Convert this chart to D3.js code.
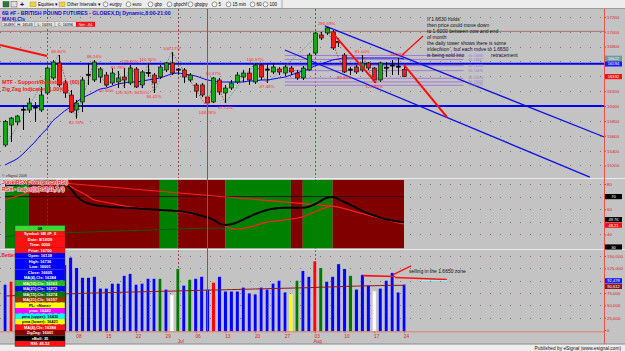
<!DOCTYPE html>
<html>
<head>
<meta charset="utf-8">
<style>
  body { margin: 0; background: #c3c3c3; overflow: hidden; }
  svg { display: block; font-family: "Liberation Sans", Arial, sans-serif; }
</style>
</head>
<body>
<div id="chart"></div>
<script src="https://d3js.org/d3.v7.min.js"></script>
<script>
// daily bars, index 0 = first session on screen (late May 2009)
var opens  = [15475,15744,15785,15950,15946,15980,15946,16175,16377,16579,
              16310,16148,15946,16054,16420,16350,16390,16417,16310,16323,
              16390,16310,16498,16283,16444,16417,16390,16485,16579,16490,
              16485,16350,16283,16283,16121,16054,16350,16175,16242,16323,
              16390,16444,16323,16552,16490,16458,16498,16444,16511,16444,
              16377,16485,16713,16956,16983,16996,16870,16686,16490,16525,
              16485,16579,16511,16350,16515,16545,16530,16489];
var highs  = [15812,15852,15880,16013,16108,16054,16256,16525,16619,16686,
              16350,16215,16081,16390,16579,16619,16525,16458,16511,16471,
              16511,16552,16525,16485,16579,16444,16552,16592,16727,16511,
              16511,16444,16310,16310,16175,16390,16377,16283,16350,16458,
              16485,16511,16579,16579,16579,16579,16525,16552,16538,16485,
              16538,16713,16996,16996,17060,17023,16915,16713,16525,16552,
              16686,16592,16525,16592,16592,16619,16646,16543];
var lows   = [15448,15515,15744,15677,15906,15785,15919,16148,16350,16256,
              16108,15906,15830,15919,16283,16323,16310,16256,16283,16242,
              16242,16283,16242,16242,16390,16175,16363,16458,16417,16417,
              16310,16323,16108,16121,15973,16040,16148,16040,16215,16296,
              16323,16283,16296,16350,16310,16431,16417,16404,16417,16350,
              16350,16471,16686,16888,16956,16754,16794,16444,16417,16431,
              16458,16485,16310,16323,16390,16417,16417,16391];
var closes = [15790,15838,15865,15960,16040,15973,16148,16511,16592,16283,
              16175,15919,16040,16350,16430,16592,16498,16283,16444,16377,
              16350,16511,16256,16458,16431,16310,16525,16579,16444,16480,
              16390,16417,16200,16148,16040,16377,16188,16242,16310,16417,
              16444,16350,16552,16390,16480,16525,16458,16525,16458,16377,
              16511,16686,16983,16915,17050,16781,16850,16458,16480,16458,
              16579,16511,16350,16579,16505,16540,16520,16396];
var maCls  = [15206,15246,15287,15354,15435,15515,15610,15690,15798,15865,
              15933,15987,16054,16108,16148,16188,16229,16242,16269,16296,
              16310,16323,16323,16337,16350,16363,16377,16404,16431,16444,
              16431,16417,16404,16377,16350,16337,16323,16323,16323,16323,
              16323,16337,16337,16350,16350,16363,16377,16390,16417,16444,
              16471,16498,16538,16565,16592,16619,16632,16646,16646,16646,
              16646,16646,16646,16646,16646,16646,16646,16632];

// zig zag swing points
var zzIdx   = [0,9,12,15,17,19,20,21,23,24,25,28,34,35,37,42,44,54,57,60,62,66];
var zzPrice = [15448,16686,15830,16619,16256,16471,16242,16552,16242,16579,16175,16727,
               15973,16390,16040,16579,16310,17060,16444,16686,16310,16646];
var zzLabel = ["","68.80%","62.76%","88.24%","60.50%","81.79%","120.30%","129.20%","84.41%",
               "110.30%","94.42%","100.17%","148.28%","62.47%","67.72%","100.57%","47.44%",
               "286.69%","80.96%","81.00%","120.86%","96.09%"];

// drawn levels and trend lines, [bar index, price]
var supportLevels = [16570, 16000];
var resistLevel = 17005;
var fibLevels = [16680, 16627, 16543, 16476, 16373, 16324, 16279];
var fibFrom = 47, fibTo = 77;
var redTopLeft = [[-0.84, 16821], [7.05, 16673]];
var redDrop    = [[54.8, 17000], [62.3, 16310]];
var redTarget  = [[67, 16552], [74.2, 15852]];
var redPointer = [[66.7, 16686], [70.2, 16942]];
var channelUpper = [[53.7, 17077], [104, 15475]];
var channelLower = [[47, 16754], [98.2, 15044]];
var noteLines = ["If 1.6630 holds", "then price could move down", "to 1.6000 between now and end",
                 "of month", "the daily tower shows there is some", "indecision , but each move to 1.6650",
                 "is being sold into"];
var noteTail = "retracement";

// RSX panel
var rsx = [79.0,79.3,79.6,79.9,80.2,80.6,81.0,81.3,81.6,81.7,
           80.5,76.5,70.5,66.5,64.5,63.3,62.6,62.1,61.7,61.4,
           61.2,61.0,60.7,60.4,60.1,59.7,59.4,59.1,58.9,58.6,
           58.0,57.1,56.0,54.8,53.6,51.5,48.8,47.5,48.0,49.5,
           51.8,54.0,56.2,57.9,59.3,60.3,61.0,61.2,61.2,61.1,
           61.2,62.0,63.8,66.5,69.0,69.7,68.0,65.7,63.5,61.0,
           58.7,56.6,55.0,53.3,52.0,51.0,50.3,49.8];
var rsxSig = [67.3,68.8,70.3,71.8,73.3,74.8,76.3,77.8,79.3,80.5,
              80.2,78.0,75.3,72.9,70.0,67.3,66.3,65.4,64.5,63.5,
              62.6,61.8,61.3,60.8,60.3,59.8,59.4,58.9,58.4,57.9,
              57.3,56.5,55.7,54.9,53.9,51.5,49.0,47.0,44.6,44.3,
              44.8,45.8,47.0,48.5,49.8,50.4,51.0,51.6,52.2,52.8,
              54.0,56.0,57.8,59.8,61.5,62.5,61.6,60.4,59.2,57.8,
              56.6,55.3,54.0,52.8,51.6,50.3,49.2,48.3];
var rsxTrend = [[9.7, 80.8], [55, 62.5]];
var rsxBase  = [[0, 38.0], [4, 40.3], [20, 42.8], [34, 45.0], [37, 44.7]];
var zoneStart = [0, 4, 26, 29, 37, 48, 50, 55];
var zoneEnd   = [4, 26, 29, 37, 48, 50, 55, 67];
var zoneUp    = [1, 0, 1, 0, 1, 0, 1, 0];

// volume panel
var vols = [92500,98400,95000,90000,97000,93000,101000,112000,108000,118000,
            131900,147600,126000,106300,106300,108300,84600,84600,94500,94500,
            110200,114200,92500,94500,104300,104300,104300,82700,70900,124000,
            90600,102400,104300,108300,82700,96500,108300,78700,78700,78700,
            86600,74800,72800,86600,82700,94500,100400,76800,72800,100400,
            120100,108300,139800,126000,98400,108300,133900,124000,110200,82700,
            112200,90600,78700,84600,100400,116100,76800,92500];
var volType = ["n","c","n","n","n","n","n","n","n","n",
               "n","n","n","n","n","n","n","n","n","n",
               "n","n","n","n","n","n","h","n","w","h",
               "n","h","n","n","n","c","n","n","n","n",
               "n","n","n","n","n","n","n","n","l","h",
               "n","n","c","h","n","n","n","n","h","n",
               "n","n","w","n","n","n","n","n"];
var volMa = [69000,69300,69900,70300,70500,71100,71400,71900,72300,72600,
             73100,73500,73800,74200,74700,75000,75200,75600,76000,76200,
             76600,76900,77100,77500,77700,78000,78400,78600,78800,79200,
             79500,79900,80100,80400,80800,81000,81200,81600,81900,82100,
             82500,82800,83200,83400,83700,84100,84300,84600,84900,85300,
             85500,85800,86300,86700,87000,87400,87800,88300,88600,89000,
             89300,89600,89800,90100,90300,90400,90500,90600];
var sellLine1 = [[60.1, 110200], [65.5, 108300]];
var sellLine2 = [[65.5, 106300], [74.2, 102400]];
var sellCyan  = [[69.7, 100400], [74.2, 100400]];
var sellPointer = [[65.2, 112200], [68.2, 129900]];

// axes (levels hidden behind value boxes are left out of the label lists)
var priceGrid  = [15200,15400,15600,15800,16000,16200,16400,16600,16800,17000,17200];
var priceTicks = [15200,15400,15600,15800,16000,16200,16800,17000,17200];
var rsiGrid  = [40, 50, 60, 70, 80];
var rsiTicks = [40, 60, 80];
var volGrid  = [25000,50000,75000,100000,125000,150000];
var volTicks = [0,25000,50000,75000,125000,150000];
var dayTickIdx = [12,17,22,27,32,37,42,47,52,57,62,67];
var dayTickLbl = ["08","15","22","29","06","13","20","27","03","10","17","24"];
var monthIdx = [7, 29, 52];
var monthLblIdx = [29, 52];
var monthLbl = ["Jul", "Aug"];
var cursorIdx = 34;

// data window
var tableText = ["08","Symbol: 6B #F_0","Date: 8/18/09","Time: 0000","Price: 16700","Open: 16138",
  "High: 16736","Low: 16001","Close: 16605","MA(4),Cls: 16384","MA(10),Cls: 16163","MA(21),Cls: 16272",
  "MA(15),Cls: 16274","MA(21),Cls: 16157","PL: <None>","pma: 16482","pma (upper): 16430",
  "pma (lower): 16421","MA(4),Cls: 16384","ZigZag: 16001","nBall: 35","RSI: 46.52"];
var tableFill = ["#33dd33","#ff1111","#ff1111","#ff1111","#ff1111","#0000ff","#0000ff","#0000ff",
  "#0000ff","#0000ff","#22bb22","#0000ff","#007700","#993300","#ffff00","#ff00ff","#00ffff",
  "#ffff00","#ff1111","#880000","#000000","#ff1111"];

var toolbarItems = ["eurjpy","euro","gbp","gbpchf","gbpjpy","5","15 min","60","100"];
var statusBoxes = [["16489", 2, 15], ["H: 16543", 15, 35], ["L: 16391", 35, 55], ["C: 16396", 55, 76]];

// ---------------------------------------------------------------
var svg = d3.select("#chart").append("svg").attr("width", 625).attr("height", 351);
svg.append("rect").attr("width", 625).attr("height", 351).attr("fill", "#c3c3c3");

var x  = d3.scaleLinear().domain([0, 67]).range([5, 404]);
var yP = d3.scaleLinear().domain([15000, 17000]).range([180.3, 31.7]);
var yR = d3.scaleLinear().domain([30, 80]).range([247, 184]);
var yV = d3.scaleLinear().domain([0, 150000]).range([330, 256]);

var defs = svg.append("defs");
function clip(id, cx, cy, w, h) {
  defs.append("clipPath").attr("id", id).append("rect")
    .attr("x", cx).attr("y", cy).attr("width", w).attr("height", h);
}
clip("cp", 0, 9, 604, 169);
clip("cr", 0, 179.5, 604, 69);
clip("cv", 0, 250.5, 604, 81);

function seg(g, pts, sy, color, w) {
  g.append("line")
    .attr("x1", x(pts[0][0])).attr("y1", sy(pts[0][1]))
    .attr("x2", x(pts[1][0])).attr("y2", sy(pts[1][1]))
    .attr("stroke", color).attr("stroke-width", w);
}
function dotGrid(g, vals, sy) {
  g.selectAll(null).data(vals).enter().append("line")
    .attr("x1", 0).attr("x2", 604)
    .attr("y1", function(d) { return Math.round(sy(d)) + 0.5; })
    .attr("y2", function(d) { return Math.round(sy(d)) + 0.5; })
    .attr("stroke", "#8a6f6f").attr("stroke-dasharray", "1,9");
}
function monthLines(g, y0, y1) {
  g.selectAll(null).data(monthIdx).enter().append("line")
    .attr("x1", function(d) { return Math.round(x(d)) + 0.5; })
    .attr("x2", function(d) { return Math.round(x(d)) + 0.5; })
    .attr("y1", y0).attr("y2", y1)
    .attr("stroke", "#7a3535").attr("stroke-dasharray", "2,2").attr("stroke-width", 0.8);
}

// ---------------- price panel ----------------
var gP = svg.append("g").attr("clip-path", "url(#cp)");
dotGrid(gP, priceGrid, yP);
monthLines(gP, 9, 178);

gP.append("line").attr("x1", 0).attr("x2", 604)
  .attr("y1", yP(resistLevel)).attr("y2", yP(resistLevel))
  .attr("stroke", "#a05a5a").attr("stroke-width", 0.8);

gP.selectAll(null).data(fibLevels).enter().append("line")
  .attr("x1", x(fibFrom)).attr("x2", x(fibTo))
  .attr("y1", function(d) { return yP(d); }).attr("y2", function(d) { return yP(d); })
  .attr("stroke", "#a27ad8").attr("stroke-width", 1);

gP.selectAll(null).data(supportLevels).enter().append("line")
  .attr("x1", 0).attr("x2", 604)
  .attr("y1", function(d) { return yP(d); }).attr("y2", function(d) { return yP(d); })
  .attr("stroke", "#0000ee").attr("stroke-width", 2);

gP.append("path").datum(maCls)
  .attr("fill", "none").attr("stroke", "#0000ff").attr("stroke-width", 1)
  .attr("d", d3.line().x(function(d, i) { return x(i); }).y(function(d) { return yP(d); }).curve(d3.curveMonotoneX));

seg(gP, channelUpper, yP, "#1010e0", 1.3);
seg(gP, channelLower, yP, "#1010e0", 1.3);

// zig zag legs
for (var k = 1; k < zzIdx.length; k++) {
  var up = zzPrice[k] > zzPrice[k - 1];
  gP.append("line")
    .attr("x1", x(zzIdx[k - 1])).attr("y1", yP(zzPrice[k - 1]))
    .attr("x2", x(zzIdx[k])).attr("y2", yP(zzPrice[k]))
    .attr("stroke", up ? "#3f8b8b" : "#a03030").attr("stroke-width", 0.8)
    .attr("stroke-dasharray", "1.5,1.5");
}

// candles
var bars = d3.range(opens.length);
function isDoji(i) { return Math.abs(opens[i] - closes[i]) < 20; }
gP.selectAll(".wick").data(bars).enter().append("line")
  .attr("x1", function(i) { return Math.round(x(i)) + 0.5; })
  .attr("x2", function(i) { return Math.round(x(i)) + 0.5; })
  .attr("y1", function(i) { return yP(highs[i]); })
  .attr("y2", function(i) { return yP(lows[i]); })
  .attr("stroke", "#000").attr("stroke-width", 1);
gP.selectAll(".body").data(bars).enter().append("rect")
  .attr("x", function(i) { return Math.round(x(i)) - 1.4; })
  .attr("width", 3.8)
  .attr("y", function(i) { return isDoji(i) ? yP(opens[i]) - 0.6 : yP(Math.max(opens[i], closes[i])); })
  .attr("height", function(i) { return isDoji(i) ? 1.2 : Math.abs(yP(opens[i]) - yP(closes[i])); })
  .attr("fill", function(i) {
    if (isDoji(i)) return "#000";
    return closes[i] > opens[i] ? "#14a814" : "#ff1a1a";
  })
  .attr("stroke", "#000").attr("stroke-width", 0.6);

// red annotation lines
seg(gP, redTopLeft, yP, "#ff1010", 2);
seg(gP, redDrop, yP, "#ff1010", 2);
seg(gP, redTarget, yP, "#ff1010", 2);
seg(gP, redPointer, yP, "#ff1010", 1.4);

// zig zag percentages
for (var k = 1; k < zzIdx.length; k++) {
  var isHigh = zzPrice[k] > zzPrice[k - 1];
  gP.append("text")
    .attr("x", x(zzIdx[k])).attr("y", yP(zzPrice[k]) + (isHigh ? -1.8 : 5.5))
    .attr("text-anchor", "middle").attr("font-size", 4.4).attr("fill", "#ff2a2a")
    .text(zzLabel[k]);
}

// comment text
gP.selectAll(".note").data(noteLines).enter().append("text")
  .attr("x", 427).attr("y", function(d, i) { return 21 + i * 6; })
  .attr("font-size", 5).attr("fill", "#111").text(function(d) { return d; });
gP.append("text").attr("x", 491).attr("y", 21 + (noteLines.length - 1) * 6)
  .attr("font-size", 5).attr("fill", "#111").text(noteTail);

// fib labels
gP.selectAll(".fibl").data(fibLevels).enter().append("text")
  .attr("x", x(fibTo) + 5).attr("y", function(d) { return yP(d) + 1.2; })
  .attr("font-size", 3.2).attr("fill", "#9a78cc")
  .text(function(d) { return "60: " + d; });

gP.append("text").attr("x", 2).attr("y", 84).attr("font-size", 5.4).attr("font-weight", "bold")
  .attr("fill", "#ee2020").text("MTF - Support/Resistance (60)");
gP.append("text").attr("x", 2).attr("y", 90.5).attr("font-size", 5.4).attr("font-weight", "bold")
  .attr("fill", "#ee2020").text("Zig Zag Indicator (1.00%)");
gP.append("text").attr("x", 2).attr("y", 177).attr("font-size", 3.6).attr("fill", "#333")
  .text("\u00a9 eSignal 2008");

// title + status
svg.append("text").attr("x", 2).attr("y", 14.6).attr("font-size", 5.2).attr("font-weight", "bold")
  .attr("fill", "#1010d0").text("6B #F - BRITISH POUND FUTURES - GLOBEX,Dj Dynamic,8:00-21:00");
svg.append("text").attr("x", 2).attr("y", 20.6).attr("font-size", 5).attr("font-weight", "bold")
  .attr("fill", "#1010d0").text("MA(4),Cls");
statusBoxes.forEach(function(s) {
  svg.append("rect").attr("x", s[1]).attr("y", 21.8).attr("width", s[2] - s[1]).attr("height", 5)
    .attr("fill", "#e4e4e4").attr("stroke", "#888").attr("stroke-width", 0.4);
  svg.append("text").attr("x", (s[1] + s[2]) / 2).attr("y", 25.6).attr("text-anchor", "middle")
    .attr("font-size", 3.8).attr("fill", "#000").text(s[0]);
});
svg.append("rect").attr("x", 76).attr("y", 21.8).attr("width", 19).attr("height", 5).attr("fill", "#ff1010");
svg.append("text").attr("x", 85.5).attr("y", 25.6).attr("text-anchor", "middle")
  .attr("font-size", 3.8).attr("fill", "#fff").text("Net: -84");

// ---------------- RSX panel ----------------
var gR = svg.append("g").attr("clip-path", "url(#cr)");
dotGrid(gR, rsiGrid, yR);
gR.selectAll(".zone").data(zoneStart).enter().append("rect")
  .attr("x", function(d) { return x(d); })
  .attr("width", function(d, i) { return x(zoneEnd[i]) - x(d); })
  .attr("y", 180).attr("height", 68.5)
  .attr("fill", function(d, i) { return zoneUp[i] ? "#008000" : "#800000"; });
monthLines(gR, 179, 249);
gR.append("line").attr("x1", x(0)).attr("x2", x(67)).attr("y1", yR(70)).attr("y2", yR(70))
  .attr("stroke", "#2a0000").attr("stroke-width", 0.8);
gR.append("path").datum(rsxBase).attr("fill", "none").attr("stroke", "#0d5a0d").attr("stroke-width", 1)
  .attr("d", d3.line().x(function(d) { return x(d[0]); }).y(function(d) { return yR(d[1]); }));
seg(gR, rsxTrend, yR, "#ff2020", 1.2);
gR.append("path").datum(rsxSig).attr("fill", "none").attr("stroke", "#ff2020").attr("stroke-width", 1.2)
  .attr("d", d3.line().x(function(d, i) { return x(i); }).y(function(d) { return yR(d); }).curve(d3.curveMonotoneX));
gR.append("path").datum(rsx).attr("fill", "none").attr("stroke", "#000").attr("stroke-width", 2)
  .attr("d", d3.line().x(function(d, i) { return x(i); }).y(function(d) { return yR(d); }).curve(d3.curveMonotoneX));

svg.append("text").attr("x", 2).attr("y", 184).attr("font-size", 5.2).attr("font-weight", "bold")
  .attr("fill", "#ee2020").attr("stroke", "#e8e8e8").attr("stroke-width", 1.2).attr("paint-order", "stroke")
  .text("Jurik RSX Divergence(RSI)");
svg.append("text").attr("x", 2).attr("y", 190.5).attr("font-size", 5.2).attr("font-weight", "bold")
  .attr("fill", "#ee2020").attr("stroke", "#e8e8e8").attr("stroke-width", 1.2).attr("paint-order", "stroke")
  .text("RSX - major(r)(RSI,11,7,0)");

// ---------------- volume panel ----------------
var gV = svg.append("g").attr("clip-path", "url(#cv)");
dotGrid(gV, volGrid, yV);
gV.selectAll(null).data(monthIdx).enter().append("line")
  .attr("x1", function(d) { return Math.round(x(d)) + 0.5; })
  .attr("x2", function(d) { return Math.round(x(d)) + 0.5; })
  .attr("y1", 250).attr("y2", 332)
  .attr("stroke", "#7a3535").attr("stroke-dasharray", "2,2").attr("stroke-width", 0.8);
var volColor = d3.scaleOrdinal().domain(["n","c","h","l","w"])
  .range(["#0000ff","#ff0000","#007700","#ffff00","#ffffff"]);
gV.selectAll(".vbar").data(vols).enter().append("rect")
  .attr("x", function(d, i) { return x(i) - 1.6; }).attr("width", 3.4)
  .attr("y", function(d) { return yV(d); })
  .attr("height", function(d) { return yV(0) - yV(d) + 1.5; })
  .attr("fill", function(d, i) { return volColor(volType[i]); })
  .attr("stroke", "#dcdcdc").attr("stroke-width", 0.4);
gV.append("path").datum(volMa).attr("fill", "none").attr("stroke", "#8b1a1a").attr("stroke-width", 1)
  .attr("d", d3.line().x(function(d, i) { return x(i); }).y(function(d) { return yV(d); }));
seg(gV, sellLine1, yV, "#ff1010", 1.6);
seg(gV, sellLine2, yV, "#ff1010", 1.6);
seg(gV, sellCyan, yV, "#80ffff", 1);
seg(gV, sellPointer, yV, "#ff1010", 1.3);
gV.append("text").attr("x", 409).attr("y", 273).attr("font-size", 5).attr("fill", "#111")
  .text("selling in the  1.6650 zone");
gV.append("text").attr("x", 1.5).attr("y", 257).attr("font-size", 4.8).attr("font-weight", "bold")
  .attr("fill", "#ee2020").text("Better");

// time axis
var xAxis = svg.append("g").attr("transform", "translate(0,331.5)")
  .call(d3.axisBottom(x).tickValues(dayTickIdx).tickSize(1.5)
    .tickFormat(function(d, i) { return dayTickLbl[i]; }));
xAxis.select(".domain").remove();
xAxis.selectAll("line").attr("stroke", "#e04040");
xAxis.selectAll("text").attr("font-size", 4.8).attr("fill", "#e02020").attr("y", 3.5).attr("dx", 2);
svg.append("line").attr("x1", 0).attr("x2", 604).attr("y1", 331.8).attr("y2", 331.8)
  .attr("stroke", "#e87050").attr("stroke-width", 0.8);
svg.selectAll(".mon").data(monthLblIdx).enter().append("text")
  .attr("x", function(d) { return x(d) + 3; }).attr("y", 343)
  .attr("text-anchor", "middle").attr("font-size", 4.8).attr("fill", "#e02020")
  .text(function(d, i) { return monthLbl[i]; });

// panel separators
[178.5, 249.5].forEach(function(py) {
  svg.append("line").attr("x1", 0).attr("x2", 625).attr("y1", py).attr("y2", py)
    .attr("stroke", "#ececec").attr("stroke-width", 1);
});

// cursor line
svg.append("line").attr("x1", Math.round(x(cursorIdx)) + 0.5).attr("x2", Math.round(x(cursorIdx)) + 0.5)
  .attr("y1", 9).attr("y2", 332).attr("stroke", "#b04545").attr("stroke-width", 1);

// right scale
svg.append("line").attr("x1", 604.5).attr("x2", 604.5).attr("y1", 9).attr("y2", 344)
  .attr("stroke", "#ee5050").attr("stroke-width", 1);

function styleAxis(g) {
  g.select(".domain").remove();
  g.selectAll("line").attr("stroke", "#e04040");
  g.selectAll("text").attr("font-size", 4.4).attr("fill", "#e02020").attr("x", 2.5);
}
svg.append("g").attr("transform", "translate(604.5,0)")
  .call(d3.axisRight(yP).tickValues(priceTicks).tickSize(1.5).tickFormat(d3.format("d")))
  .call(styleAxis);
svg.append("g").attr("transform", "translate(604.5,0)")
  .call(d3.axisRight(yR).tickValues(rsiTicks).tickSize(1.5).tickFormat(d3.format("d")))
  .call(styleAxis);
svg.append("g").attr("transform", "translate(604.5,0)")
  .call(d3.axisRight(yV).tickValues(volTicks).tickSize(1.5).tickFormat(d3.format(",")))
  .call(styleAxis);

function box(yc, txt, fill, color) {
  svg.append("rect").attr("x", 605).attr("y", yc - 2.6).attr("width", 17).attr("height", 5.2).attr("fill", fill);
  svg.append("text").attr("x", 613.5).attr("y", yc + 1.5).attr("text-anchor", "middle")
    .attr("font-size", 4.1).attr("fill", color).text(txt);
}
box(58.3, "16622", "#6f9a9a", "#fff");
box(63.9, "16594", "#1a1aff", "#fff");
box(yP(closes[closes.length - 1]), "16392", "#ff1010", "#fff");
box(yR(70), "70", "#000", "#fff");
box(yR(30), "30", "#000", "#fff");
box(219.6, "49.76", "#000", "#fff");
box(225.2, "48.21", "#ff1010", "#fff");
box(280.8, "92,478", "#1a1aff", "#fff");
box(286.4, "90,612", "#8b1a1a", "#fff");

// bottom strip
svg.append("rect").attr("x", 0).attr("y", 344).attr("width", 625).attr("height", 7).attr("fill", "#eeeeee");
svg.append("line").attr("x1", 0).attr("x2", 625).attr("y1", 344).attr("y2", 344).attr("stroke", "#8a8a8a");
svg.append("text").attr("x", 621).attr("y", 349.6).attr("text-anchor", "end").attr("font-size", 4.8)
  .attr("fill", "#111").text("Published by eSignal (www.esignal.com)");

// data window table
var rowH = 5.5;
var table = svg.append("g");
table.selectAll("rect").data(tableText).enter().append("rect")
  .attr("x", 15).attr("width", 50)
  .attr("y", function(d, i) { return 225.5 + i * rowH; }).attr("height", rowH)
  .attr("fill", function(d, i) { return tableFill[i]; });
table.selectAll("text").data(tableText).enter().append("text")
  .attr("x", 40).attr("y", function(d, i) { return 229.5 + i * rowH; })
  .attr("text-anchor", "middle").attr("font-size", 4).attr("font-weight", "bold")
  .attr("fill", function(d, i) {
    var f = tableFill[i];
    return (f === "#33dd33" || f === "#ffff00" || f === "#00ffff") ? "#000" : "#fff";
  })
  .text(function(d) { return d; });
table.append("rect").attr("x", 15).attr("y", 225.5).attr("width", 50).attr("height", rowH * tableText.length)
  .attr("fill", "none").attr("stroke", "#444").attr("stroke-width", 0.5);

// toolbar
svg.append("rect").attr("x", 0).attr("y", 0).attr("width", 625).attr("height", 8.5).attr("fill", "#ececec");
svg.append("line").attr("x1", 0).attr("x2", 625).attr("y1", 8.5).attr("y2", 8.5).attr("stroke", "#9a9a9a");
svg.append("rect").attr("x", 3).attr("y", 1.5).attr("width", 6).attr("height", 5.5).attr("fill", "#2e7d32").attr("stroke", "#333").attr("stroke-width", 0.4);
svg.append("rect").attr("x", 11).attr("y", 1.5).attr("width", 6).attr("height", 5.5).attr("fill", "#ddd").attr("stroke", "#333").attr("stroke-width", 0.4);
svg.append("text").attr("x", 20).attr("y", 7).attr("font-size", 7).attr("font-weight", "bold").text("+");
[30, 59].forEach(function(fx) {
  svg.append("rect").attr("x", fx).attr("y", 2).attr("width", 6).attr("height", 4.5).attr("fill", "#f2d04a").attr("stroke", "#a08020").attr("stroke-width", 0.4);
});
svg.append("text").attr("x", 38).attr("y", 6.3).attr("font-size", 4.5).text("Equities  \u25be");
svg.append("text").attr("x", 67).attr("y", 6.3).attr("font-size", 4.5).text("Other Intervals  \u25be");
var tbx = [103, 126, 148, 167, 188, 212, 226, 250, 263];
toolbarItems.forEach(function(t, i) {
  svg.append("circle").attr("cx", tbx[i] + 2.5).attr("cy", 4.3).attr("r", 2.4)
    .attr("fill", "#fff").attr("stroke", "#333").attr("stroke-width", 0.5);
  svg.append("text").attr("x", tbx[i] + 6.5).attr("y", 6.3).attr("font-size", 4.5).text(t);
});
svg.append("line").attr("x1", 282).attr("x2", 282).attr("y1", 0).attr("y2", 8.5).attr("stroke", "#aaa");
</script>
</body>
</html>
